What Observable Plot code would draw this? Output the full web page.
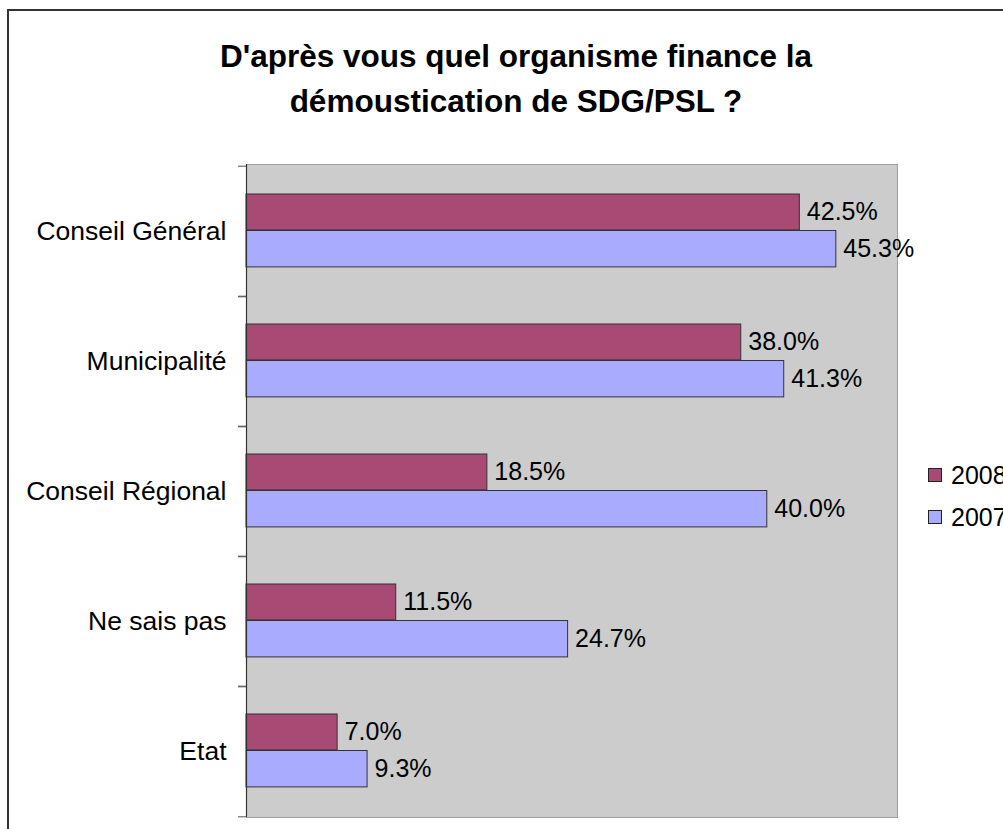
<!DOCTYPE html>
<html>
<head>
<meta charset="utf-8">
<script src="https://cdn.jsdelivr.net/npm/d3@7"></script>
<script src="https://cdn.jsdelivr.net/npm/@observablehq/plot@0.6"></script>
<style>
  html, body { margin: 0; padding: 0; background: #fff; }
  body { width: 1003px; height: 829px; overflow: hidden; position: relative; font-family: "Liberation Sans", Arial, sans-serif; }
  #frame { position: absolute; left: 7px; top: 9px; width: 1100px; height: 900px; border: 2px solid #333; box-sizing: border-box; }
  #title { position: absolute; left: 0; top: 34px; width: 1032px; text-align: center; font-weight: bold; font-size: 31.5px; line-height: 45px; color: #000; }
  #chart { position: absolute; left: 0; top: 150px; }
  #legend { position: absolute; left: 928px; top: 454px; font-size: 25px; color: #000; }
  .item { display: flex; align-items: center; height: 42px; white-space: nowrap; }
  .sw { width: 14px; height: 14px; box-sizing: border-box; border: 1.5px solid #222; margin-right: 9px; }
</style>
</head>
<body>
<div id="frame"></div>
<div id="title"></div>
<div id="chart"></div>
<div id="legend"></div>
<script>
const titleLines = ["D'après vous quel organisme finance la", "démoustication de SDG/PSL ?"];
const categories = ["Conseil Général", "Municipalité", "Conseil Régional", "Ne sais pas", "Etat"];
const years = ["2008", "2007"];
const values2008 = [42.5, 38.0, 18.5, 11.5, 7.0];
const values2007 = [45.3, 41.3, 40.0, 24.7, 9.3];
const colors = ["#a94a75", "#a9abff"];

document.getElementById("title").innerHTML = titleLines.join("<br>");

const d2008 = categories.map((c, i) => ({cat: c, value: values2008[i]}));
const d2007 = categories.map((c, i) => ({cat: c, value: values2007[i]}));
const fmt = d => d.value.toFixed(1) + "%";

const chart = Plot.plot({
  width: 1003,
  height: 679,
  marginTop: 14,
  marginBottom: 12,
  marginLeft: 246,
  marginRight: 106,
  style: {fontFamily: "Liberation Sans, Arial, sans-serif", fontSize: "25px", color: "#000", background: "transparent", overflow: "visible"},
  x: {domain: [0, 50], axis: null},
  y: {domain: categories, padding: 0, label: null},
  marks: [
    Plot.frame({fill: "#cccccc", stroke: "#a0a0a0"}),
    Plot.barX(d2008, {x: "value", y: "cat", fill: colors[0], stroke: "#333", strokeWidth: 1, insetTop: 28, insetBottom: 66.1}),
    Plot.barX(d2007, {x: "value", y: "cat", fill: colors[1], stroke: "#333", strokeWidth: 1, insetTop: 64.5, insetBottom: 29.1}),
    Plot.text(d2008, {x: "value", y: "cat", text: fmt, dx: 7, dy: -20, textAnchor: "start", fill: "#000", fontSize: 25}),
    Plot.text(d2007, {x: "value", y: "cat", text: fmt, dx: 7, dy: 17, textAnchor: "start", fill: "#000", fontSize: 25}),
    Plot.ruleX([0], {stroke: "#333", strokeWidth: 1.2}),
    Plot.axisY({tickSize: 8, tickFormat: () => "", dy: -65.3, stroke: "#555", label: null}),
    Plot.axisY({tickSize: 8, tickFormat: () => "", dy: 65.3, stroke: "#555", label: null}),
    Plot.axisY({tickSize: 0, tickPadding: 20, fontSize: 26.5, fill: "#000", label: null})
  ]
});
document.getElementById("chart").appendChild(chart);

const legend = document.getElementById("legend");
years.forEach((y, i) => {
  const item = document.createElement("div");
  item.className = "item";
  const sw = document.createElement("div");
  sw.className = "sw";
  sw.style.background = colors[i];
  const t = document.createElement("span");
  t.textContent = y;
  item.appendChild(sw);
  item.appendChild(t);
  legend.appendChild(item);
});
</script>
</body>
</html>
